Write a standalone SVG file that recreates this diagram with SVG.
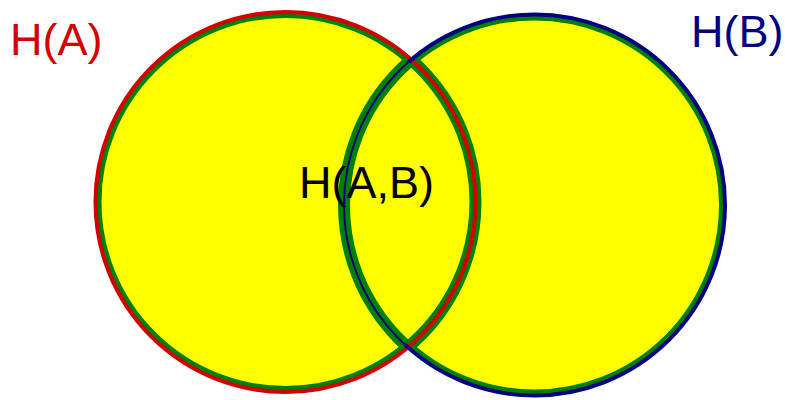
<svg xmlns="http://www.w3.org/2000/svg" width="785" height="400" viewBox="0 0 785 400">
  <style>
    .lbl { font-family: "Liberation Sans", Arial, sans-serif; font-size: 45px; }
    .fill { fill: #ffff00; stroke: none; }
    .rim { fill: none; stroke: #008000; stroke-width: 12; }
  </style>
  <defs>
    <clipPath id="union">
      <circle cx="285.5" cy="202" r="190"/>
      <circle cx="534.5" cy="205" r="190.5"/>
    </clipPath>
    <clipPath id="insideA">
      <circle cx="285.5" cy="202" r="186"/>
    </clipPath>
  </defs>

  <!-- yellow union of both sets -->
  <g id="fills">
    <circle class="fill" cx="285.5" cy="202" r="190"/>
    <circle class="fill" cx="534.5" cy="205" r="190.5"/>
  </g>

  <!-- green rims, kept inside the union -->
  <g id="rims" clip-path="url(#union)">
    <circle class="rim" cx="285.5" cy="202" r="190"/>
    <circle class="rim" cx="534.5" cy="205" r="190.5"/>
  </g>

  <g id="setA">
    <circle cx="285.5" cy="202" r="190" fill="none" stroke="#d40000" stroke-width="4"/>
    <text class="lbl" x="10" y="55" fill="#d40000">H(A)</text>
  </g>

  <g id="setB">
    <circle cx="534.5" cy="205" r="190.5" fill="none" stroke="#000080" stroke-width="4"/>
    <!-- inner arc of B runs thinner through the overlap -->
    <g clip-path="url(#insideA)">
      <circle cx="534.5" cy="205" r="190.5" fill="none" stroke="#008000" stroke-width="10"/>
      <circle cx="534.5" cy="205" r="190.5" fill="none" stroke="#000080" stroke-width="2"/>
    </g>
    <text class="lbl" x="691" y="47" fill="#000080">H(B)</text>
  </g>

  <g id="joint">
    <text class="lbl" x="299" y="198" fill="#000000">H(A,B)</text>
  </g>
</svg>
